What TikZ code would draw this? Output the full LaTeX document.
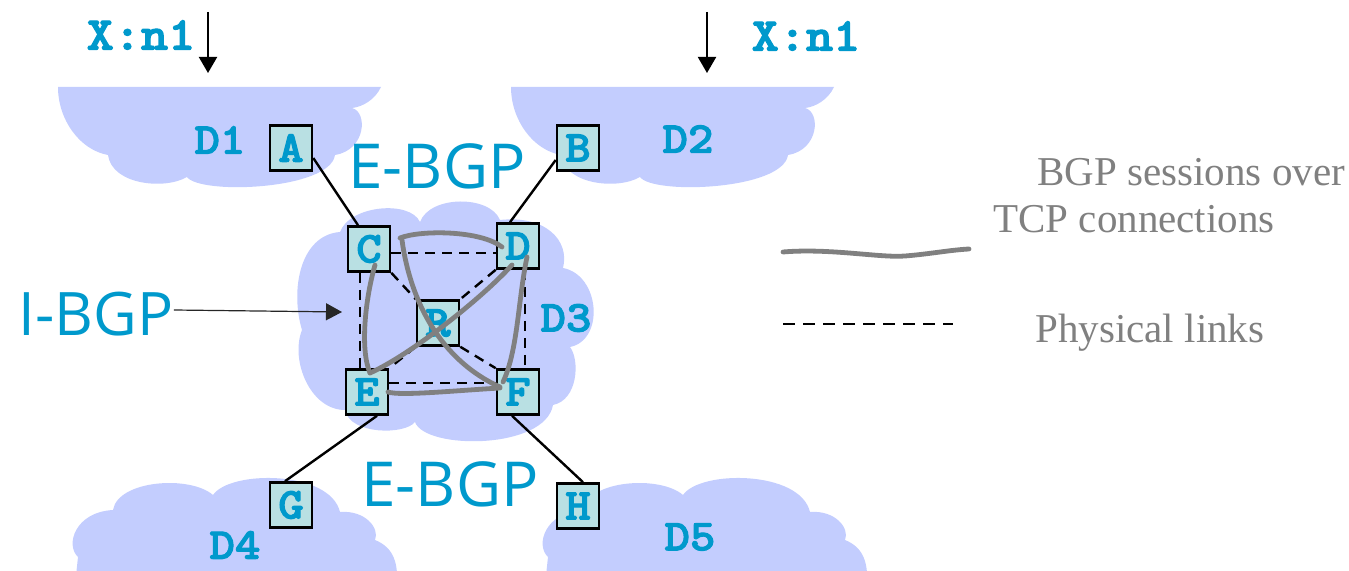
\documentclass[tikz,border=0pt]{standalone}
\usepackage{fontspec}
\setmainfont{Liberation Serif}
\newfontfamily\cour{Latin Modern Mono Light}[FakeStretch=1.1, BoldFeatures={FakeBold=2.5}]
\newfontfamily\comic{Open Sans}
\usetikzlibrary{arrows.meta,calc}
\definecolor{cloud}{RGB}{195,205,254}
\definecolor{boxfill}{RGB}{185,224,227}
\definecolor{lblue}{RGB}{0,153,204}
\definecolor{sess}{RGB}{128,128,128}
\newcommand\topcloudpath{(58,87) -- (381,87)
  .. controls (375,100) and (362,107) .. (352,108)
  .. controls (368,112) and (366,150) .. (335,155)
  .. controls (330,190) and (200,195) .. (187,177)
  .. controls (165,190) and (112,185) .. (108,155)
  .. controls (80,150) and (58,120) .. (58,87) -- cycle}
\newcommand\botcloudpath{(75,585) -- (78,557)
  .. controls (65,545) and (75,512) .. (113,510)
  .. controls (118,480) and (190,475) .. (213,495)
  .. controls (230,470) and (330,470) .. (340,512)
  .. controls (365,510) and (380,528) .. (375,540)
  .. controls (395,548) and (398,565) .. (397,585) -- cycle}
\tikzset{
  router/.style={draw=black, line width=1.3pt, fill=boxfill, minimum width=21pt,
    minimum height=22.5pt, inner sep=0pt, text=lblue,
    font=\cour\bfseries\fontsize{22}{22}\selectfont},
  domlabel/.style={inner sep=0pt, text=lblue, font=\cour\bfseries\fontsize{22}{22}\selectfont},
  pfxlabel/.style={inner sep=0pt, text=lblue, font=\cour\bfseries\fontsize{23.5}{23.5}\selectfont},
  bgplabel/.style={inner sep=0pt, text=lblue, font=\comic\fontsize{31}{31}\selectfont},
  legendtext/.style={inner sep=0pt, anchor=base west, text=sess, font=\fontsize{20.5}{20.5}\selectfont},
  phys/.style={draw=black, line width=1.2pt, dash pattern=on 5pt off 3.5pt},
  extlink/.style={draw=black, line width=1.2pt},
  session/.style={draw=sess, line width=2.4pt, line cap=round},
  announce/.style={draw=black, line width=1pt, -{Triangle[width=9pt,length=8pt]}},
}
\begin{document}
\begin{tikzpicture}[x=0.5pt,y=-0.5pt]
\useasboundingbox (0,0) rectangle (1349,571);
% clouds
\fill[cloud] \topcloudpath;
\fill[cloud, shift={(453,0)}] \topcloudpath;
\fill[cloud] \botcloudpath;
\fill[cloud, shift={(470,0)}] \botcloudpath;
\fill[cloud] (340,232)
  .. controls (350,205) and (410,200) .. (420,222)
  .. controls (430,195) and (490,195) .. (500,220)
  .. controls (545,215) and (570,240) .. (563,268)
  .. controls (600,275) and (605,340) .. (570,347)
  .. controls (580,360) and (578,400) .. (553,405)
  .. controls (545,450) and (425,450) .. (415,422)
  .. controls (405,435) and (350,435) .. (345,410)
  .. controls (310,410) and (290,360) .. (302,330)
  .. controls (290,290) and (300,235) .. (340,232) -- cycle;
% routers
\node[router] (A) at (291,148) {A};
\node[router] (B) at (578,148) {B};
\node[router] (C) at (369,249) {C};
\node[router] (D) at (518,246) {D};
\node[router] (R) at (438,323) {R};
\node[router] (E) at (367,392) {E};
\node[router] (F) at (518,392) {F};
\node[router] (G) at (291,505) {G};
\node[router] (H) at (578,506) {H};
% labels
\node[domlabel] (d1) at (220,140) {D1};
\node[domlabel] (d2) at (688,139) {D2};
\node[domlabel] (d3) at (566,318) {D3};
\node[domlabel] (d4) at (235,545) {D4};
\node[domlabel] (d5) at (690,537) {D5};
\node[pfxlabel] (p1) at (141,35) {X:n1};
\node[pfxlabel] (p2) at (806,36) {X:n1};
\node[bgplabel] (eb1) at (437,166) {E-BGP};
\node[bgplabel] (eb2) at (450,484) {E-BGP};
\node[bgplabel, font=\comic\fontsize{30}{30}\selectfont] (ib) at (96,314) {I-BGP};
% announcement arrows
\coordinate (a1s) at (208,12); \coordinate (a1e) at (208,73);
\coordinate (a2s) at (707,12); \coordinate (a2e) at (707,73);
\draw[announce] (a1s) -- (a1e);
\draw[announce] (a2s) -- (a2e);
% I-BGP pointer
\coordinate (ibt) at (342,312);
\draw[black!85, line width=0.6pt, -{Triangle[width=8.5pt,length=8pt]}] ([yshift=2pt]ib.east) -- (ibt);
% external links
\draw[extlink] ([yshift=-5pt]A.east) -- ([xshift=-5.5pt]C.north);
\draw[extlink] ([yshift=-6pt]B.west) -- ([xshift=-4pt]D.north);
\draw[extlink] ([xshift=5pt]E.south) -- ([xshift=-3pt]G.north);
\draw[extlink] ([xshift=-3pt]F.south) -- ([xshift=2.5pt]H.north);
% physical links inside D3
\draw[phys] ([yshift=-2pt]C.east) -- ([yshift=-3.5pt]D.west);
\draw[phys] ([xshift=-4.5pt]C.south) -- ([xshift=-3.5pt]E.north);
\draw[phys] ([xshift=3.5pt]D.south) -- ([xshift=3.5pt]F.north);
\draw[phys] ([yshift=4.5pt]E.east) -- ([yshift=4.5pt]F.west);
\draw[phys] (C.south east) -- (R.north west);
\draw[phys] (D.south west) -- (R.north east);
\draw[phys] (R.south east) -- (F.north west);
\draw[phys] (R.south west) -- (E.north east);
% BGP sessions
\draw[session] ($(C)+(31,-11)$) .. controls (420,230) and (480,230) .. ($(D)+(-16,1)$);
\draw[session] ($(C)+(33,-9)$) .. controls (410,300) and (440,360) .. ($(F)+(-18,-5)$);
\draw[session] ($(C)+(6,16)$) .. controls (365,300) and (360,350) .. ($(E)+(3,-19)$);
\draw[session] ($(E)+(3,-19)$) .. controls (410,355) and (480,300) .. ($(D)+(-6,19)$);
\draw[session] ($(D)+(9,11)$) .. controls (518,300) and (518,350) .. ($(F)+(-15,-10)$);
\draw[session] ($(E)+(21,0)$) .. controls (400,396) and (450,391) .. ($(F)+(-18,-4)$);
% legend
\coordinate (l1) at (783,252); \coordinate (l2) at (969,249);
\draw[session] (l1) .. controls (830,248) and (880,258) .. (905,256) .. controls (930,254) and (950,250) .. (l2);
\coordinate (l3) at (783,324); \coordinate (l4) at (953,324);
\draw[phys, dash pattern=on 6pt off 4pt] (l3) -- (l4);
\node[legendtext] (t1) at (1037,186) {BGP sessions over};
\node[legendtext] (t2) at (993,233) {TCP connections};
\node[legendtext] (t3) at (1035,343) {Physical links};
\end{tikzpicture}
\end{document}
